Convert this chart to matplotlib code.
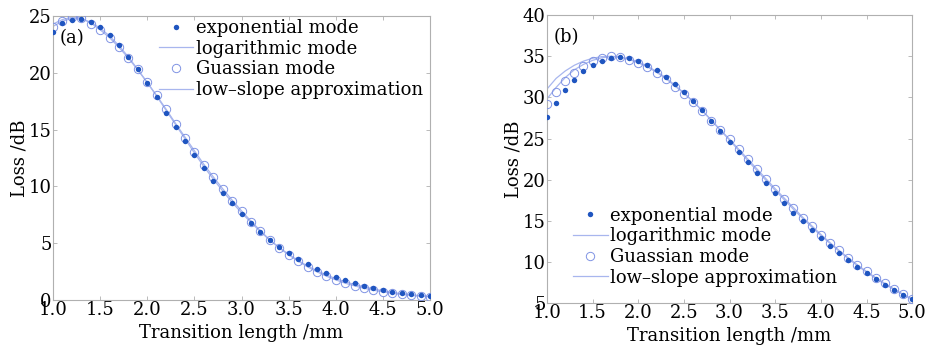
import numpy as np
import matplotlib
matplotlib.use("Agg")
import matplotlib.pyplot as plt

# --- dados ---
comprimento = [round(1.0 + 0.1 * i, 1) for i in range(41)]  # Transition length /mm

# (a)
exp_a = [23.6, 24.4, 24.7, 24.75, 24.5, 24.0, 23.35, 22.5, 21.4, 20.3,
         19.1, 17.85, 16.5, 15.25, 14.0, 12.8, 11.6, 10.5, 9.45, 8.5,
         7.57, 6.75, 6.0, 5.28, 4.7, 4.1, 3.58, 3.14, 2.7, 2.35,
         2.02, 1.76, 1.47, 1.26, 1.08, 0.88, 0.7, 0.64, 0.53, 0.44, 0.35]
log_a = [24.3, 24.7, 24.9, 24.85, 24.4, 23.8, 23.1, 22.25, 21.3, 20.25,
         19.15, 18.0, 16.8, 15.55, 14.35, 13.15, 11.95, 10.85, 9.8, 8.8,
         7.85, 6.95, 6.1, 5.3, 4.6, 3.98, 3.42, 2.92, 2.48, 2.1,
         1.77, 1.48, 1.24, 1.03, 0.86, 0.71, 0.58, 0.48, 0.4, 0.33, 0.28]
gauss_a = [24.0, 24.6, 24.9, 24.85, 24.3, 23.75, 23.1, 22.3, 21.35, 20.3,
           19.2, 18.05, 16.8, 15.5, 14.3, 13.05, 11.85, 10.8, 9.75, 8.75,
           7.8, 6.9, 6.05, 5.25, 4.55, 3.95, 3.4, 2.9, 2.45, 2.1,
           1.78, 1.5, 1.25, 1.05, 0.88, 0.73, 0.6, 0.5, 0.42, 0.35, 0.3]
low_a = [24.1, 24.55, 24.8, 24.75, 24.45, 23.95, 23.25, 22.4, 21.4, 20.3,
         19.15, 17.95, 16.7, 15.45, 14.2, 12.95, 11.75, 10.65, 9.6, 8.6,
         7.68, 6.83, 6.02, 5.27, 4.62, 4.02, 3.48, 3.0, 2.58, 2.2,
         1.88, 1.6, 1.36, 1.15, 0.97, 0.8, 0.66, 0.55, 0.45, 0.37, 0.31]

# (b)
exp_b = [27.66, 29.36, 30.9, 32.1, 33.17, 33.97, 34.45, 34.78, 34.86, 34.74,
         34.45, 33.97, 33.3, 32.5, 31.6, 30.65, 29.6, 28.47, 27.17, 25.96,
         24.62, 23.4, 22.12, 20.86, 19.57, 18.36, 17.22, 16.0, 15.0, 13.87,
         12.93, 11.97, 11.03, 10.18, 9.38, 8.65, 7.96, 7.23, 6.63, 5.98, 5.5]
log_b = [31.0, 32.3, 33.2, 33.9, 34.4, 34.75, 34.95, 35.0, 34.9, 34.6,
         34.2, 33.7, 33.05, 32.3, 31.4, 30.5, 29.5, 28.4, 27.25, 26.05,
         24.9, 23.7, 22.5, 21.3, 20.1, 18.9, 17.75, 16.6, 15.45, 14.4,
         13.35, 12.35, 11.4, 10.5, 9.65, 8.85, 8.1, 7.4, 6.72, 6.08, 5.5]
gauss_b = [29.2, 30.6, 31.95, 33.0, 33.77, 34.38, 34.78, 35.0, 34.85, 34.55,
           34.15, 33.65, 33.0, 32.2, 31.3, 30.4, 29.4, 28.35, 27.15, 26.0,
           24.9, 23.7, 22.5, 21.3, 20.1, 18.9, 17.7, 16.55, 15.4, 14.35,
           13.3, 12.35, 11.4, 10.5, 9.65, 8.85, 8.1, 7.4, 6.72, 6.08, 5.5]
low_b = [29.8, 31.2, 32.4, 33.35, 34.0, 34.5, 34.8, 34.95, 34.9, 34.65,
         34.3, 33.8, 33.15, 32.4, 31.5, 30.55, 29.5, 28.4, 27.2, 26.0,
         24.8, 23.55, 22.3, 21.1, 19.9, 18.7, 17.55, 16.4, 15.3, 14.25,
         13.2, 12.25, 11.3, 10.4, 9.55, 8.75, 8.0, 7.3, 6.65, 6.02, 5.45]

rotulos = ["exponential mode", "logarithmic mode", "Guassian mode",
           "low\u2013slope approximation"]

# --- estilo ---
plt.rcParams['font.family'] = ['DejaVu Serif']
plt.rcParams['font.size'] = 13

COR_PONTO = '#1f55c0'
COR_CIRC = '#8094e4'
COR_LINHA = '#a8b6ee'
COR_EIXO = '#b0b0b0'
TAM = 13


def desenhar(ax, exp, log, gauss, low, ylim, yticks, letra, leg_pos):
    x = np.array(comprimento)
    ax.plot(x, log, '-', color=COR_LINHA, lw=0.9, zorder=2)
    ax.plot(x, low, '-', color=COR_LINHA, lw=0.9, zorder=2)
    ax.plot(x, gauss, 'o', mfc='none', mec=COR_CIRC, ms=6, mew=0.7, zorder=3)
    ax.plot(x, exp, 'o', color=COR_PONTO, ms=3.9, mew=0, zorder=4)
    ax.set_xlim(1.0, 5.0)
    ax.set_ylim(*ylim)
    ax.set_xticks(np.arange(1.0, 5.01, 0.5))
    ax.set_xticklabels([f"{v:.1f}" for v in np.arange(1.0, 5.01, 0.5)])
    ax.set_yticks(yticks)
    ax.set_xlabel('Transition length /mm', labelpad=3, fontsize=TAM)
    ax.set_ylabel('Loss /dB', labelpad=0, fontsize=TAM)
    for s in ax.spines.values():
        s.set_color(COR_EIXO)
        s.set_linewidth(0.8)
    ax.tick_params(direction='in', length=3, color=COR_EIXO, width=0.6,
                   top=True, right=True, pad=1, labelsize=TAM)
    ax.text(0.018, 0.955, letra, transform=ax.transAxes, ha='left', va='top',
            fontsize=TAM)

    h_exp = plt.Line2D([], [], ls='none', marker='o', color=COR_PONTO, ms=3.9, mew=0)
    h_log = plt.Line2D([], [], ls='-', color=COR_LINHA, lw=0.9)
    h_gau = plt.Line2D([], [], ls='none', marker='o', mfc='none', mec=COR_CIRC,
                       ms=6, mew=0.7)
    h_low = plt.Line2D([], [], ls='-', color=COR_LINHA, lw=0.9)
    leg = ax.legend([h_exp, h_log, h_gau, h_low], rotulos, loc='upper left',
                    bbox_to_anchor=leg_pos, frameon=False, fontsize=TAM,
                    handlelength=1.9, handletextpad=0.15, labelspacing=0.15,
                    borderaxespad=0, borderpad=0)
    leg.set_zorder(10)


fig = plt.figure(figsize=(9.27, 3.5), dpi=100)
ax_a = fig.add_axes([0.0572, 0.1429, 0.4067, 0.811])
ax_b = fig.add_axes([0.590, 0.134, 0.394, 0.823])

desenhar(ax_a, exp_a, log_a, gauss_a, low_a, (0, 25), [0, 5, 10, 15, 20, 25],
         '(a)', (0.28, 0.99))
desenhar(ax_b, exp_b, log_b, gauss_b, low_b, (5, 40), [5, 10, 15, 20, 25, 30, 35, 40],
         '(b)', (0.072, 0.335))

fig.savefig('out.png', dpi=100)
